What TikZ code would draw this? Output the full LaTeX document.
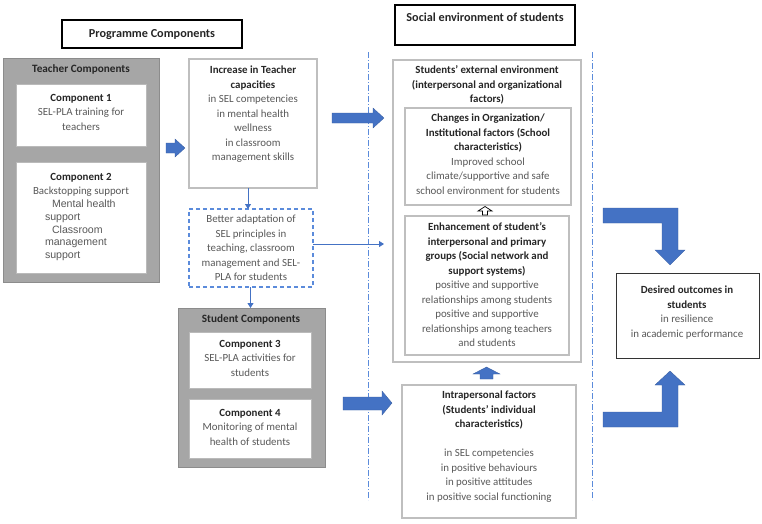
\documentclass[tikz,border=0pt]{standalone}
\usepackage{fontspec}
\setmainfont{Carlito}
\newfontfamily\arialf{Liberation Sans}
\usetikzlibrary{calc,arrows.meta}
\definecolor{ablue}{HTML}{4472C4}
\definecolor{lblue}{HTML}{5B8BDB}
\definecolor{gfill}{HTML}{A6A6A6}
\definecolor{gline}{HTML}{8C8C8C}
\definecolor{lline}{HTML}{BFBFBF}
\definecolor{bodyc}{HTML}{595959}
\definecolor{headc}{HTML}{262626}
\newcommand\hd[1]{\textcolor{headc}{\bfseries #1}}
\newcommand\mkbox[6]{\node[#6, minimum width={(#4)-(#2)}, minimum height={(#5)-(#3)}] (#1) at (#2,#3) {};}
\begin{document}
\begin{tikzpicture}[x=1pt,y=-1pt,
  base/.style={inner sep=0pt, outer sep=0pt, anchor=north west},
  lightbox/.style={base, draw=lline, line width=1.1pt, fill=white},
  whitebox/.style={base, draw=gline!60, line width=0.8pt, fill=white},
  greybox/.style={base, draw=gline, line width=1pt, fill=gfill},
  titlebox/.style={base, draw=black, line width=2pt, fill=white},
  dashbox/.style={base, draw=lblue, line width=1.1pt, dashed, dash pattern=on 4pt off 3pt, fill=white},
  outbox/.style={base, draw=black!80, line width=1pt, fill=white},
  txt/.style={inner sep=0pt, outer sep=0pt, align=center, anchor=north, text=bodyc, font=\fontsize{10.9}{14.5}\selectfont},
  ttl/.style={txt, font=\fontsize{12.2}{14.5}\selectfont},
  conn/.style={draw=ablue, line width=0.9pt, -{Triangle[length=5pt,width=6pt]}},
  sep/.style={draw=lblue, line width=0.8pt, dash pattern=on 6pt off 2pt on 1pt off 2pt},
  bigarrow/.style={fill=ablue, draw=ablue!80!black, line width=0.3pt}]
\useasboundingbox (0,0) rectangle (762,523);

% separators
\coordinate (s1t) at (368,52); \coordinate (s1b) at (368,500);
\coordinate (s2t) at (592,52); \coordinate (s2b) at (592,500);
\draw[sep] (s1t) -- (s1b);
\draw[sep] (s2t) -- (s2b);

% title boxes
\mkbox{prog}{62}{20}{242}{48}{titlebox}
\node[ttl] (progt) at (152,29) {\hd{Programme Components}};
\mkbox{soc}{395}{5}{575}{45}{titlebox}
\node[ttl] (soct) at (485,13) {\hd{Social environment of students}};

% teacher components
\mkbox{teach}{3}{58}{159}{282}{greybox}
\node[txt, font=\fontsize{11.2}{14.5}\selectfont] (teacht) at (81,65) {\hd{Teacher Components}};
\mkbox{c1}{16}{84}{146}{146}{whitebox}
\node[txt] (c1t) at (81,94) {\hd{Component 1}\\SEL-PLA training for\\teachers};
\mkbox{c2}{16}{162}{146}{273}{whitebox}
\node[txt] (c2t) at (81,173) {\hd{Component 2}\\Backstopping support};
\node[inner sep=0pt, outer sep=0pt, anchor=north west, align=left, text=bodyc,
  font=\arialf\fontsize{10.6}{12.7}\selectfont] (c2l) at (45,200)
  {\hspace*{7pt}Mental health\\support\\\hspace*{7pt}Classroom\\management\\support};

% increase in teacher capacities
\mkbox{incr}{189}{59}{317}{188}{lightbox}
\node[txt] (incrt) at (253,66) {\hd{Increase in Teacher}\\\hd{capacities}\\in SEL competencies\\in mental health\\wellness\\in classroom\\management skills};

% dashed box
\mkbox{adapt}{189}{209}{313}{287}{dashbox}
\node[txt] (adaptt) at (251,215) {Better adaptation of\\SEL principles in\\teaching, classroom\\management and SEL-\\PLA for students};

% student components
\mkbox{stud}{178}{308}{325}{467}{greybox}
\node[txt, font=\fontsize{11.2}{14.5}\selectfont] (studt) at (251,315) {\hd{Student Components}};
\mkbox{c3}{189}{332}{311}{388}{whitebox}
\node[txt] (c3t) at (250,340) {\hd{Component 3}\\SEL-PLA activities for\\students};
\mkbox{c4}{189}{399}{311}{458}{whitebox}
\node[txt] (c4t) at (250,409) {\hd{Component 4}\\Monitoring of mental\\health of students};

% external environment
\mkbox{ext}{393}{60}{581}{362}{lightbox}
\node[txt] (extt) at (487,66) {\hd{Students' external environment}\\\hd{(interpersonal and organizational}\\\hd{factors)}};
\mkbox{chg}{405}{108}{571}{205}{lightbox}
\node[txt] (chgt) at (488,114) {\hd{Changes in Organization/}\\\hd{Institutional factors (School}\\\hd{characteristics)}\\Improved school\\climate/supportive and safe\\school environment for students};
\mkbox{enh}{405}{216}{569}{355}{lightbox}
\node[txt] (enht) at (487,223) {\hd{Enhancement of student's}\\\hd{interpersonal and primary}\\\hd{groups (Social network and}\\\hd{support systems)}\\positive and supportive\\relationships among students\\positive and supportive\\relationships among teachers\\and students};

% intrapersonal
\mkbox{intra}{402}{385}{576}{518}{lightbox}
\node[txt] (intrat) at (489,391) {\hd{Intrapersonal factors}\\\hd{(Students' individual}\\\hd{characteristics)}\\[14.5pt]in SEL competencies\\in positive behaviours\\in positive attitudes\\in positive social functioning};

% desired outcomes
\mkbox{des}{616}{273}{759}{358}{outbox}
\node[txt] (dest) at (687,286) {\hd{Desired outcomes in}\\\hd{students}\\in resilience\\in academic performance};

% thin connectors
\coordinate (ax1) at (248,0);
\coordinate (ax2) at (250.5,0);
\coordinate (ay3) at (0,244);
\coordinate (tip3) at (384,244);
\draw[conn] (incr.south -| ax1) -- (adapt.north -| ax1);
\draw[conn] (adapt.south -| ax2) -- (stud.north -| ax2);
\draw[conn] (adapt.east |- ay3) -- (tip3);

% block arrows
\fill[bigarrow] (166,143) -- (175,143) -- (175,139) -- (185,148) -- (175,157) -- (175,153) -- (166,153) -- cycle;
\fill[bigarrow] (332,113) -- (373,113) -- (373,108) -- (384,118) -- (373,128) -- (373,123) -- (332,123) -- cycle;
\fill[bigarrow] (343,397) -- (382,397) -- (382,391) -- (392,403) -- (382,415) -- (382,410) -- (343,410) -- cycle;
\fill[bigarrow] (603,208) -- (678,208) -- (678,250) -- (685,250) -- (670,265) -- (655,250) -- (662,250) -- (662,223) -- (603,223) -- cycle;
\fill[bigarrow] (603,412) -- (662,412) -- (662,385) -- (655,385) -- (670,371) -- (685,385) -- (678,385) -- (678,427) -- (603,427) -- cycle;
\fill[bigarrow] (480,379) -- (480,374) -- (473,374) -- (486.5,367) -- (500,374) -- (493,374) -- (493,379) -- cycle;
\draw[black, line width=0.7pt, fill=white] (482.5,215) -- (482.5,211) -- (478,211) -- (485,206.5) -- (492,211) -- (487.5,211) -- (487.5,215) -- cycle;
\end{tikzpicture}
\end{document}
